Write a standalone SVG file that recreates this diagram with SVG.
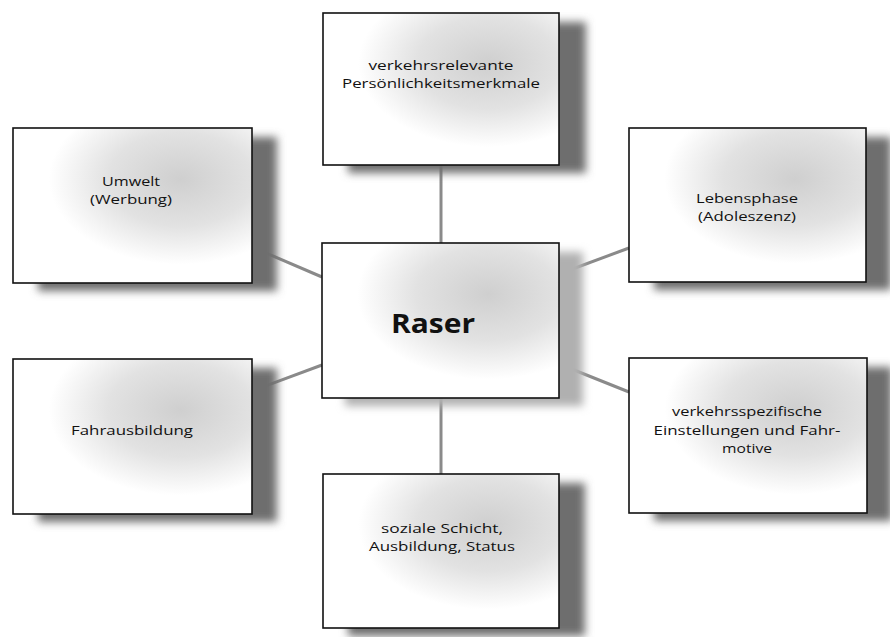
<svg xmlns="http://www.w3.org/2000/svg" width="890" height="637" viewBox="0 0 890 637">
<defs>
<radialGradient id="boxfill" cx="0.7" cy="0.33" r="0.55" fx="0.7" fy="0.33">
<stop offset="0" stop-color="#cfcfcf"/>
<stop offset="0.55" stop-color="#e2e2e2"/>
<stop offset="1" stop-color="#ffffff"/>
</radialGradient>
<filter id="blur" x="-20%" y="-20%" width="140%" height="140%">
<feGaussianBlur stdDeviation="4"/>
</filter>
</defs>
<style>
.box{fill:url(#boxfill);stroke:#111;stroke-width:1.6}
.shadow{fill:#6e6e6e;filter:url(#blur)}
.shadow.light{fill:#b0b0b0}
.lbl{font-family:"Open Sans","Liberation Sans",sans-serif;font-size:13px;fill:#111;text-anchor:middle}
.title{font-family:"Open Sans","Liberation Sans",sans-serif;font-size:26px;font-weight:bold;fill:#111;text-anchor:middle}
.conn{stroke:#8a8a8a;stroke-width:3;fill:none}
</style>
<rect width="890" height="637" fill="#ffffff"/>
<g id="connectors">
<line class="conn" x1="441" y1="165" x2="441" y2="243"/>
<line class="conn" x1="441" y1="398" x2="441" y2="474"/>
<line class="conn" x1="252" y1="247" x2="322" y2="277"/>
<line class="conn" x1="252" y1="391" x2="322" y2="365"/>
<line class="conn" x1="559" y1="274" x2="629" y2="248"/>
<line class="conn" x1="559" y1="364" x2="629" y2="392"/>
</g>
<g id="node-persoenlichkeit">
<rect class="shadow" x="348" y="22" width="238" height="151"/>
<rect class="box" x="323" y="13" width="236" height="152"/>
<text class="lbl" x="441" y="70" textLength="145" lengthAdjust="spacingAndGlyphs">verkehrsrelevante</text>
<text class="lbl" x="441" y="88" textLength="198" lengthAdjust="spacingAndGlyphs">Persönlichkeitsmerkmale</text>
</g>
<g id="node-umwelt">
<rect class="shadow" x="38" y="137" width="239" height="154"/>
<rect class="box" x="13" y="128" width="239" height="155"/>
<text class="lbl" x="131" y="186" textLength="58" lengthAdjust="spacingAndGlyphs">Umwelt</text>
<text class="lbl" x="131" y="204" textLength="82" lengthAdjust="spacingAndGlyphs">(Werbung)</text>
</g>
<g id="node-lebensphase">
<rect class="shadow" x="654" y="137" width="237" height="153"/>
<rect class="box" x="629" y="128" width="237" height="154"/>
<text class="lbl" x="747" y="203" textLength="102" lengthAdjust="spacingAndGlyphs">Lebensphase</text>
<text class="lbl" x="747" y="221" textLength="98" lengthAdjust="spacingAndGlyphs">(Adoleszenz)</text>
</g>
<g id="node-raser">
<rect class="shadow light" x="345" y="252" width="238" height="154"/>
<rect class="box" x="322" y="243" width="237" height="155"/>
<text class="title" x="433" y="333" textLength="84" lengthAdjust="spacingAndGlyphs">Raser</text>
</g>
<g id="node-fahrausbildung">
<rect class="shadow" x="38" y="368" width="239" height="154"/>
<rect class="box" x="13" y="359" width="239" height="155"/>
<text class="lbl" x="132" y="435" textLength="122" lengthAdjust="spacingAndGlyphs">Fahrausbildung</text>
</g>
<g id="node-einstellungen">
<rect class="shadow" x="654" y="367" width="238" height="154"/>
<rect class="box" x="629" y="358" width="238" height="155"/>
<text class="lbl" x="747" y="416" textLength="150" lengthAdjust="spacingAndGlyphs">verkehrsspezifische</text>
<text class="lbl" x="747" y="435" textLength="187" lengthAdjust="spacingAndGlyphs">Einstellungen und Fahr-</text>
<text class="lbl" x="747" y="453" textLength="50" lengthAdjust="spacingAndGlyphs">motive</text>
</g>
<g id="node-sozial">
<rect class="shadow" x="348" y="483" width="237" height="153"/>
<rect class="box" x="323" y="474" width="236" height="154"/>
<text class="lbl" x="442" y="533" textLength="122" lengthAdjust="spacingAndGlyphs">soziale Schicht,</text>
<text class="lbl" x="442" y="551" textLength="146" lengthAdjust="spacingAndGlyphs">Ausbildung, Status</text>
</g>
</svg>
